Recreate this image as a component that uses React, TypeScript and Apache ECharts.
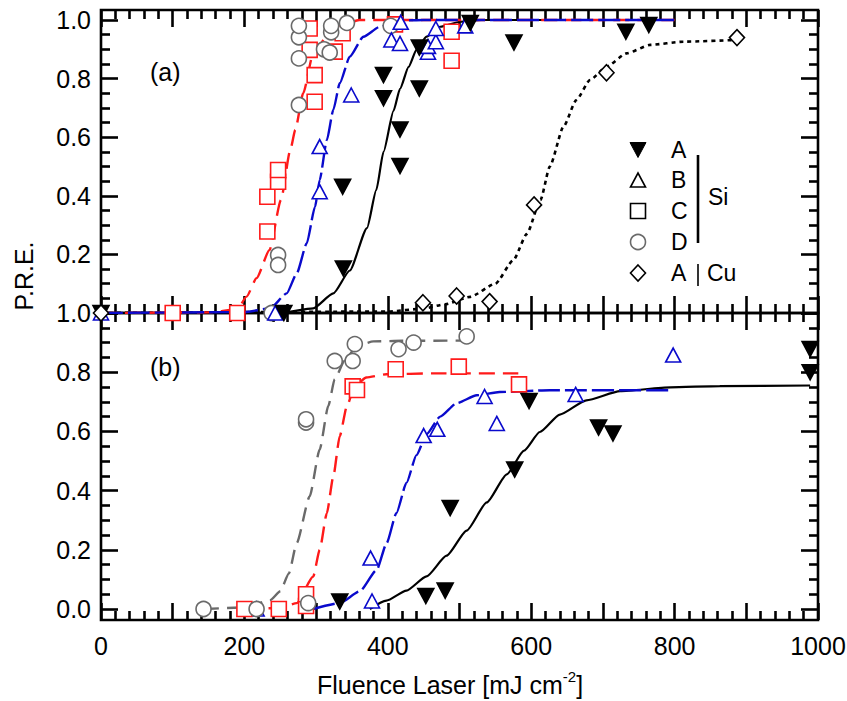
import React, { useEffect, useRef } from "react";
import * as echarts from "echarts";

// ---------- panel (a) : markers ----------
const aTopA = [[0, 0], [255, 0], [338, 0.152], [337, 0.431], [394, 0.733], [394, 0.812], [417, 0.502], [417, 0.626], [444, 0.766], [444, 0.906], [515, 0.99], [576, 0.923], [732, 0.96], [764, 0.983]];
const aTopB = [[0, 0], [243, 0], [305, 0.414], [305, 0.568], [349, 0.744], [405, 0.932], [417, 0.92], [418, 0.992], [456, 0.89], [456, 0.91], [467, 0.926], [467, 0.971], [508, 0.98]];
const aTopC = [[100, 0], [190, 0], [232, 0.278], [232, 0.397], [247, 0.448], [247, 0.488], [291, 0.971], [291, 0.898], [298, 0.812], [298, 0.721], [326, 0.892], [337, 0.955], [410, 0.985], [489, 0.96], [489, 0.861]];
const aTopD = [[238, 0], [247, 0.198], [247, 0.164], [276, 0.71], [276, 0.869], [276, 0.941], [276, 0.98], [311, 0.9], [319, 0.889], [321, 0.958], [321, 0.98], [343, 0.99], [404, 0.98]];
const aTopCu = [[0, 0], [449, 0.035], [496, 0.058], [542, 0.039], [604, 0.369], [705, 0.82], [887, 0.94]];

// ---------- panel (a) : fitted curves ----------
const fitTopA = [[0, 0], [250, 0], [296, 0.016], [324, 0.067], [347, 0.145], [371, 0.29], [384, 0.42], [394, 0.55], [408, 0.69], [417, 0.765], [429, 0.84], [440, 0.898], [454, 0.943], [473, 0.977], [501, 0.994], [530, 1.0], [800, 1.0]];
const fitTopB = [[0, 0], [200, 0.003], [236, 0.016], [259, 0.067], [273, 0.135], [287, 0.238], [298.5, 0.363], [305, 0.454], [315, 0.59], [324, 0.693], [333, 0.784], [347, 0.875], [366, 0.943], [389, 0.977], [417, 0.998], [450, 1.0], [800, 1.0]];
const fitTopC = [[0, 0], [150, 0.002], [190, 0.012], [203, 0.056], [217, 0.119], [235, 0.215], [251, 0.386], [264, 0.556], [271, 0.625], [282, 0.75], [296, 0.886], [315, 0.943], [340, 0.985], [360, 1.0], [800, 1.0]];
const fitTopCu = [[0, 0], [400, 0.005], [450, 0.015], [480, 0.03], [515, 0.055], [550, 0.1], [575, 0.18], [594, 0.27], [613, 0.386], [626, 0.5], [645, 0.636], [663, 0.727], [682, 0.795], [705, 0.841], [733, 0.886], [766, 0.915], [812, 0.926], [887, 0.932]];

// ---------- panel (b) : markers ----------
const bBotA = [[333, 0.025], [453, 0.044], [480, 0.062], [487, 0.341], [577, 0.471], [597, 0.703], [694, 0.613], [714, 0.593], [989, 0.8], [989, 0.878]];
const bBotB = [[217, 0], [378, 0.027], [376, 0.172], [450, 0.586], [469, 0.607], [535, 0.718], [552, 0.627], [662, 0.725], [798, 0.858]];
const bBotC = [[200, 0], [248, 0], [286, 0.01], [286, 0.05], [351, 0.752], [357, 0.74], [411, 0.81], [499, 0.819], [583, 0.759]];
const bBotD = [[143, 0], [217, 0], [289, 0.02], [286, 0.63], [286, 0.641], [326, 0.838], [351, 0.838], [354, 0.895], [415, 0.878], [436, 0.9], [510, 0.921]];

// ---------- panel (b) : fitted curves ----------
const fitBotA = [[375, 0], [398, 0.028], [426, 0.062], [454, 0.11], [482, 0.18], [510, 0.265], [538, 0.36], [566, 0.455], [590, 0.535], [612, 0.598], [640, 0.657], [677, 0.705], [724, 0.736], [794, 0.749], [863, 0.753], [989, 0.755]];
const fitBotB = [[296, 0], [333, 0.02], [361, 0.06], [384.5, 0.132], [398.5, 0.223], [412, 0.324], [426, 0.426], [440, 0.52], [454, 0.59], [473, 0.65], [496, 0.695], [524, 0.722], [556, 0.733], [626, 0.739], [798, 0.739]];
const fitBotC = [[200, 0], [250, 0.003], [273, 0.02], [296, 0.11], [305, 0.2], [315, 0.324], [324, 0.448], [333, 0.584], [343, 0.686], [354, 0.754], [370, 0.782], [398, 0.793], [463, 0.796], [582, 0.796]];
const fitBotD = [[145, 0], [200, 0.005], [236, 0.03], [250, 0.06], [262, 0.12], [273, 0.223], [291, 0.38], [305, 0.539], [317, 0.686], [326, 0.776], [340, 0.84], [357, 0.889], [380, 0.904], [420, 0.906], [510, 0.907]];

// ---------- axes / labels ----------
const xLabelStep = 200;
const yTickValues = [0, 0.2, 0.4, 0.6, 0.8, 1.0];
const legendLabels = ["A", "B", "C", "D", "A"];
const legendGroup = "Si";
const legendCu = "Cu";
const xTitle = "Fluence Laser [mJ cm";
const xTitleSup = "-2";
const yTitle = "P.R.E.";
const panelLabels = ["(a)", "(b)"];

const FONT = "Liberation Sans, Arial, sans-serif";
const RED = "#ff1a1a";
const BLUE = "#0a0acc";
const GRAY = "#6a6a6a";
const FS = 25;

export default function App() {
  const ref = useRef<HTMLDivElement>(null);

  useEffect(() => {
    if (!ref.current) return;
    const chart = echarts.init(ref.current, null, { renderer: "svg" });

    const tickStyle = { color: "#000", width: 2.6 };
    const xAx = (gridIndex: number, position: string, labels: boolean) => ({
      type: "value",
      gridIndex,
      position,
      min: 0,
      max: 1000,
      interval: 100,
      axisLine: { show: false, onZero: false },
      axisTick: { show: true, inside: true, length: 17, lineStyle: tickStyle },
      minorTick: { show: true, splitNumber: 5, length: 9, lineStyle: tickStyle },
      splitLine: { show: false },
      minorSplitLine: { show: false },
      axisLabel: labels
        ? {
            show: true,
            formatter: (v: number) => (Math.round(v) % xLabelStep === 0 ? String(Math.round(v)) : ""),
            fontSize: FS,
            color: "#000",
            fontFamily: FONT,
            margin: 13,
          }
        : { show: false },
    });
    const yTick = (gridIndex: number, position: string, labels: boolean, hideZero: boolean) => ({
      type: "value",
      gridIndex,
      position,
      min: 0,
      max: 1,
      interval: 0.2,
      axisLine: { show: false, onZero: false },
      axisTick: { show: true, inside: true, length: 17, lineStyle: tickStyle },
      minorTick: { show: true, splitNumber: 4, length: 9, lineStyle: tickStyle },
      splitLine: { show: false },
      minorSplitLine: { show: false },
      axisLabel: labels
        ? {
            show: true,
            formatter: (v: number) => {
              if (hideZero && Math.abs(v) < 1e-9) return "";
              const hit = yTickValues.find((t) => Math.abs(t - v) < 1e-6);
              return hit === undefined ? "" : hit.toFixed(1);
            },
            fontSize: FS,
            color: "#000",
            fontFamily: FONT,
            margin: 10,
          }
        : { show: false },
    });
    const hiddenX = (gridIndex: number) => ({ type: "value", gridIndex, min: 0, max: 1000, show: false, axisLine: { onZero: false } });

    const line = (data: number[][], xi: number, yi: number, color: string, type: any, width = 2.2, z = 2) => ({
      type: "line",
      xAxisIndex: xi,
      yAxisIndex: yi,
      data,
      symbol: "none",
      showSymbol: false,
      smooth: 0.2,
      smoothMonotone: "x",
      lineStyle: { color, width, type },
      silent: true,
      z,
    });
    const scat = (data: number[][], xi: number, yi: number, symbol: string, size: any, fill: string, stroke: string, rotate = 0, z = 3) => ({
      type: "scatter",
      xAxisIndex: xi,
      yAxisIndex: yi,
      data,
      symbol,
      symbolSize: size,
      symbolRotate: rotate,
      itemStyle: { color: fill, borderColor: stroke, borderWidth: 1.6, opacity: 1 },
      silent: true,
      z,
    });

    const topH = 303;
    const botH = 307;
    const topMax = topH / 293;
    const botMin = -(botH - 296) / 296;

    const tri = (cx: number, cy: number, w: number, h: number, down: boolean) =>
      down
        ? [[cx - w / 2, cy - h / 2], [cx + w / 2, cy - h / 2], [cx, cy + h / 2]]
        : [[cx - w / 2, cy + h / 2], [cx + w / 2, cy + h / 2], [cx, cy - h / 2]];

    const lx = 638;
    const ly = [150, 180, 211, 242, 273];
    const txtStyle = (text: string, x: number, y: number, size = 23) => ({
      type: "text",
      x,
      y,
      style: { text, fontSize: size, fontFamily: FONT, fill: "#000", verticalAlign: "middle", align: "left" },
    });

    const gridBase = { left: 101, width: 717, outerBoundsMode: "none", containLabel: false };
    const option: any = {
      animation: false,
      backgroundColor: "#fff",
      grid: [
        { ...gridBase, top: 10, height: topH, show: true, borderColor: "#000", borderWidth: 2.6, backgroundColor: "transparent" },
        { ...gridBase, top: 313, height: botH, show: true, borderColor: "#000", borderWidth: 2.6, backgroundColor: "transparent" },
        { ...gridBase, top: 20, height: 293, show: false },
        { ...gridBase, top: 313, height: 296, show: false },
      ],
      xAxis: [xAx(0, "bottom", false), xAx(0, "top", false), xAx(1, "bottom", true), xAx(1, "top", false), hiddenX(2), hiddenX(3)],
      yAxis: [
        { type: "value", gridIndex: 0, min: 0, max: topMax, show: false, axisLine: { onZero: false } },
        { type: "value", gridIndex: 1, min: botMin, max: 1, show: false, axisLine: { onZero: false } },
        yTick(2, "left", true, true),
        yTick(2, "right", false, false),
        yTick(3, "left", true, false),
        yTick(3, "right", false, false),
      ],
      series: [
        // panel (a) curves
        line(fitTopCu, 0, 0, "#000", [4, 4], 2.6),
        line(fitTopA, 0, 0, "#000", "solid", 2.2),
        line(fitTopC, 0, 0, RED, [16, 8], 2.4),
        line(fitTopB, 0, 0, BLUE, [22, 5], 2.4),
        // panel (a) markers
        scat(aTopC, 0, 0, "rect", 15, "#fff", RED),
        scat(aTopD, 0, 0, "circle", 15, "#fff", GRAY),
        scat(aTopB, 0, 0, "triangle", [15, 14], "#fff", BLUE),
        scat(aTopA, 0, 0, "triangle", [16, 15], "#000", "#000", 180),
        scat(aTopCu, 0, 0, "diamond", [15, 16], "#fff", "#000"),
        // panel (b) curves
        line(fitBotA, 2, 1, "#000", "solid", 2.2),
        line(fitBotD, 2, 1, GRAY, [14, 8], 2.4),
        line(fitBotC, 2, 1, RED, [16, 8], 2.4),
        line(fitBotB, 2, 1, BLUE, [22, 5], 2.4),
        // panel (b) markers
        scat(bBotB, 2, 1, "triangle", [15, 14], "#fff", BLUE),
        scat(bBotC, 2, 1, "rect", 15, "#fff", RED),
        scat(bBotD, 2, 1, "circle", 15, "#fff", GRAY),
        scat(bBotA, 2, 1, "triangle", [16, 15], "#000", "#000", 180),
      ],
      graphic: [
        txtStyle(panelLabels[0], 150, 72, FS),
        txtStyle(panelLabels[1], 150, 367, FS),
        // legend markers
        { type: "polygon", shape: { points: tri(lx, ly[0], 16, 15, true) }, style: { fill: "#000", stroke: "#000", lineWidth: 1 } },
        { type: "polygon", shape: { points: tri(lx, ly[1], 15, 14, false) }, style: { fill: "#fff", stroke: "#000", lineWidth: 1.6 } },
        { type: "rect", shape: { x: lx - 7.5, y: ly[2] - 7.5, width: 15, height: 15 }, style: { fill: "#fff", stroke: "#000", lineWidth: 1.6 } },
        { type: "circle", shape: { cx: lx, cy: ly[3], r: 7.5 }, style: { fill: "#fff", stroke: GRAY, lineWidth: 1.6 } },
        { type: "polygon", shape: { points: [[lx, ly[4] - 8], [lx + 7.5, ly[4]], [lx, ly[4] + 8], [lx - 7.5, ly[4]]] }, style: { fill: "#fff", stroke: "#000", lineWidth: 1.6 } },
        ...legendLabels.map((t, i) => txtStyle(t, 671, ly[i])),
        { type: "line", shape: { x1: 698, y1: 155, x2: 698, y2: 243 }, style: { stroke: "#000", lineWidth: 2.6 } },
        txtStyle(legendGroup, 708, 197),
        { type: "line", shape: { x1: 698, y1: 264, x2: 698, y2: 286 }, style: { stroke: "#000", lineWidth: 1.6 } },
        txtStyle(legendCu, 707, ly[4]),
        // axis titles
        {
          type: "text",
          x: 24,
          y: 276,
          rotation: Math.PI / 2,
          style: { text: yTitle, fontSize: FS, fontFamily: FONT, fill: "#000", align: "center", verticalAlign: "middle" },
        },
        {
          type: "text",
          x: 450,
          y: 683,
          style: {
            text: `{a|${xTitle}}{s|${xTitleSup}}{a|]}`,
            align: "center",
            verticalAlign: "middle",
            rich: {
              a: { fontSize: FS, fontFamily: FONT, fill: "#000", verticalAlign: "bottom", lineHeight: 28 },
              s: { fontSize: 15, fontFamily: FONT, fill: "#000", verticalAlign: "top", lineHeight: 28 },
            },
          },
        },
      ],
    };

    chart.setOption(option);
    return () => chart.dispose();
  }, []);

  return <div ref={ref} style={{ position: "absolute", left: 0, top: 0, width: 847, height: 701 }} />;
}
